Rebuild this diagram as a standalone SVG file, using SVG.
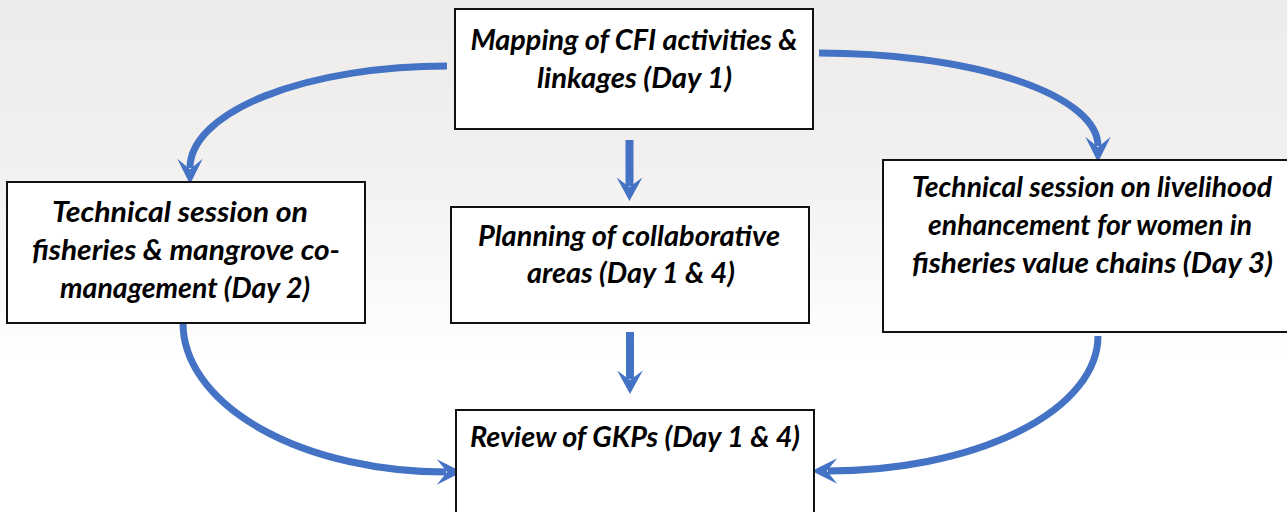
<svg xmlns="http://www.w3.org/2000/svg" width="1287" height="512" viewBox="0 0 1287 512">
  <defs>
    <linearGradient id="bg" x1="0" y1="0" x2="0" y2="1">
      <stop offset="0" stop-color="#edecea"/>
      <stop offset="0.3" stop-color="#f1f0ee"/>
      <stop offset="0.55" stop-color="#f9f9f8"/>
      <stop offset="0.7" stop-color="#ffffff"/>
      <stop offset="1" stop-color="#ffffff"/>
    </linearGradient>
    <marker id="head" markerUnits="userSpaceOnUse" markerWidth="30" markerHeight="30" viewBox="-24 -13 26 26" refX="-14" refY="0" orient="auto">
      <path d="M0,0 L-22,-11 L-13,0 L-22,11 Z" fill="#4472C4"/>
    </marker>
    <marker id="headS" markerUnits="userSpaceOnUse" markerWidth="30" markerHeight="30" viewBox="-24 -14 26 28" refX="-14" refY="0" orient="auto">
      <path d="M0,0 L-22,-12 L-13,0 L-22,12 Z" fill="#4472C4"/>
    </marker>
  </defs>
  <style>
    .box { fill: #ffffff; stroke: #111111; stroke-width: 2; }
    .lbl { font-family: Lato, "Open Sans", "Liberation Sans", sans-serif; font-weight: bold; font-style: italic; font-size: 29px; fill: #000000; text-anchor: middle; }
    .conn { fill: none; stroke: #4472C4; stroke-width: 7; stroke-linecap: butt; marker-end: url(#head); }
    .connS { fill: none; stroke: #4472C4; stroke-width: 8; stroke-linecap: butt; marker-end: url(#headS); }
  </style>
  <rect x="0" y="0" width="1287" height="512" fill="url(#bg)"/>

  <g id="connectors">
    <path class="conn" d="M447,66 A257,102 0 0 0 190,168"/>
    <path class="conn" d="M819,53 A279,93 0 0 1 1098,146"/>
    <path class="conn" d="M183,323 A263,149 0 0 0 446,472"/>
    <path class="conn" d="M1098,336 A270,135 0 0 1 828,471"/>
    <path class="connS" d="M629.5,140 L629.5,186"/>
    <path class="connS" d="M630,332 L630,379"/>
  </g>

  <g id="node-mapping">
    <rect class="box" x="455" y="9" width="358" height="120"/>
    <text class="lbl" x="634" y="50" textLength="327" lengthAdjust="spacingAndGlyphs">Mapping of CFI activities &amp;</text>
    <text class="lbl" x="634.5" y="88" textLength="195" lengthAdjust="spacingAndGlyphs">linkages (Day 1)</text>
  </g>

  <g id="node-fisheries">
    <rect class="box" x="7" y="182" width="358" height="141"/>
    <text class="lbl" x="180" y="222" textLength="256" lengthAdjust="spacingAndGlyphs">Technical session on</text>
    <text class="lbl" x="186" y="260" textLength="308" lengthAdjust="spacingAndGlyphs">fisheries &amp; mangrove co-</text>
    <text class="lbl" x="185" y="298" textLength="250" lengthAdjust="spacingAndGlyphs">management (Day 2)</text>
  </g>

  <g id="node-planning">
    <rect class="box" x="451" y="207" width="358" height="116"/>
    <text class="lbl" x="629" y="246" textLength="302" lengthAdjust="spacingAndGlyphs">Planning of collaborative</text>
    <text class="lbl" x="631" y="283" textLength="208" lengthAdjust="spacingAndGlyphs">areas (Day 1 &amp; 4)</text>
  </g>

  <g id="node-livelihood">
    <rect class="box" x="883" y="160" width="410" height="172"/>
    <text class="lbl" x="1092" y="197" textLength="360" lengthAdjust="spacingAndGlyphs">Technical session on livelihood</text>
    <text class="lbl" x="1090" y="235" textLength="324" lengthAdjust="spacingAndGlyphs">enhancement for women in</text>
    <text class="lbl" x="1092.5" y="273" textLength="361" lengthAdjust="spacingAndGlyphs">fisheries value chains (Day 3)</text>
  </g>

  <g id="node-review">
    <rect class="box" x="456" y="410" width="358" height="120"/>
    <text class="lbl" x="635" y="447" textLength="330" lengthAdjust="spacingAndGlyphs">Review of GKPs (Day 1 &amp; 4)</text>
  </g>
</svg>
